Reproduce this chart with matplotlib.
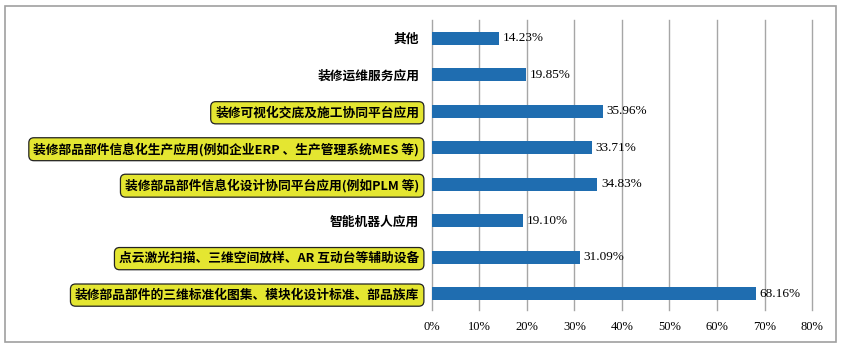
import matplotlib.pyplot as plt
from matplotlib.patches import Rectangle

plt.rcParams['font.family'] = ['Noto Sans CJK SC', 'DejaVu Sans']

# categories from bottom to top
categories = [
    "装修部品部件的三维标准化图集、模块化设计标准、部品族库",
    "点云激光扫描、三维空间放样、AR 互动台等辅助设备",
    "智能机器人应用",
    "装修部品部件信息化设计协同平台应用(例如PLM 等)",
    "装修部品部件信息化生产应用(例如企业ERP 、生产管理系统MES 等)",
    "装修可视化交底及施工协同平台应用",
    "装修运维服务应用",
    "其他",
]
values = [68.16, 31.09, 19.10, 34.83, 33.71, 35.96, 19.85, 14.23]
highlight = [True, True, False, True, True, True, False, False]
xticks = [0, 10, 20, 30, 40, 50, 60, 70, 80]

fig = plt.figure(figsize=(8.45, 3.46), dpi=100)
ax = fig.add_axes([0.511, 0.104, 0.45, 0.838])

y = range(len(categories))
ax.barh(y, values, height=0.36, color='#1f6db0', zorder=3)

serif = ['Liberation Serif', 'DejaVu Serif']
for i, v in enumerate(values):
    ax.text(v + 0.8, i, f"{v:.2f}%", va='center', ha='left', fontsize=9.5,
            family=serif, zorder=4)

ax.set_xlim(0, 80)
ax.set_ylim(-0.45, 7.5)
ax.set_xticks(xticks)
ax.set_xticklabels([f"{t}%" for t in xticks], fontsize=9, family=serif)
ax.set_yticks(list(y))
ax.set_yticklabels(categories, fontsize=9.2, fontweight='bold')
ax.tick_params(axis='both', length=0)
ax.tick_params(axis='y', pad=9)
ax.tick_params(axis='x', pad=8)

for lab, hl in zip(ax.get_yticklabels(), highlight):
    if hl:
        lab.set_bbox(dict(boxstyle='round,pad=0.36,rounding_size=0.4',
                          fc='#e4e631', ec='#222222', lw=0.9))

ax.grid(axis='x', color='#a6a6a6', lw=1, zorder=0)
for line in ax.get_xgridlines():
    line.set_clip_on(False)
for s in ax.spines.values():
    s.set_visible(False)

fig.add_artist(Rectangle((0.006, 0.012), 0.983, 0.971, transform=fig.transFigure,
                         fill=False, ec='#a0a0a0', lw=1.2))

fig.savefig('out.png', dpi=100)
